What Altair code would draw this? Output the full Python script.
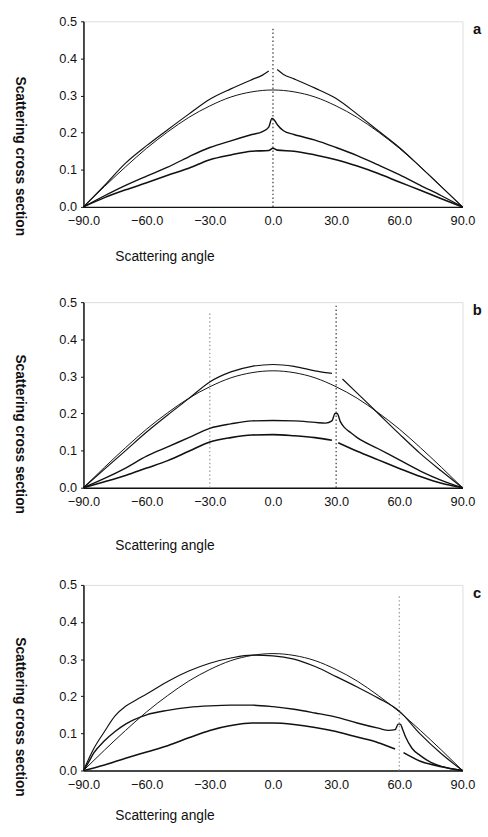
import altair as alt
import pandas as pd

FONT = "Liberation Sans"

# ---- smooth reference curve (same in every panel) ----
S_ang = [-90, -80, -70, -60, -50, -40, -30, -20, -10, 0, 10, 20, 30, 40, 50, 60, 70, 80, 90]
S_val = [0, 0.055, 0.108, 0.158, 0.202, 0.241, 0.272, 0.296, 0.31, 0.315, 0.31, 0.296, 0.272, 0.241, 0.202, 0.158, 0.108, 0.055, 0]

# ---- panel a ----
a_U_left_ang = [-90, -80, -70, -60, -50, -40, -30, -20, -10, -5, -2]
a_U_left_val = [0, 0.058, 0.118, 0.165, 0.208, 0.25, 0.29, 0.318, 0.343, 0.355, 0.366]
a_U_right_ang = [2, 5, 10, 20, 30, 40, 50, 60, 70, 80, 90]
a_U_right_val = [0.37, 0.357, 0.345, 0.32, 0.292, 0.25, 0.205, 0.16, 0.108, 0.054, 0]
a_M_ang = [-90, -80, -70, -60, -50, -40, -30, -20, -10, -5, -2, -0.5, 0.5, 2, 5, 10, 20, 30, 40, 50, 60, 70, 80, 90]
a_M_val = [0, 0.03, 0.058, 0.083, 0.107, 0.135, 0.16, 0.178, 0.195, 0.203, 0.215, 0.238, 0.235, 0.222, 0.205, 0.195, 0.18, 0.16, 0.138, 0.113, 0.087, 0.058, 0.03, 0]
a_L_ang = [-90, -80, -70, -60, -50, -40, -30, -20, -10, -2, 0, 2, 10, 20, 30, 40, 50, 60, 70, 80, 90]
a_L_val = [0, 0.025, 0.046, 0.065, 0.085, 0.104, 0.127, 0.14, 0.15, 0.152, 0.158, 0.153, 0.15, 0.14, 0.127, 0.11, 0.09, 0.067, 0.045, 0.022, 0]

# ---- panel b ----
b_U_left_ang = [-90, -80, -70, -60, -50, -40, -30, -20, -10, 0, 10, 20, 25, 28]
b_U_left_val = [0, 0.05, 0.1, 0.15, 0.196, 0.24, 0.285, 0.312, 0.327, 0.332, 0.327, 0.315, 0.31, 0.308]
b_U_right_ang = [33, 40, 50, 60, 70, 80, 90]
b_U_right_val = [0.293, 0.255, 0.2, 0.145, 0.092, 0.045, 0]
b_M_ang = [-90, -80, -70, -60, -50, -40, -30, -20, -10, 0, 10, 20, 25, 28, 29.5, 30.5, 32, 34, 37, 40, 50, 60, 70, 80, 90]
b_M_val = [0, 0.025, 0.053, 0.085, 0.11, 0.135, 0.16, 0.172, 0.18, 0.181, 0.18, 0.176, 0.174, 0.18, 0.2, 0.2, 0.178, 0.162, 0.148, 0.135, 0.105, 0.075, 0.045, 0.02, 0]
b_L_left_ang = [-90, -80, -70, -60, -50, -40, -30, -20, -10, 0, 10, 20, 28]
b_L_left_val = [0, 0.016, 0.033, 0.053, 0.073, 0.098, 0.123, 0.135, 0.142, 0.143, 0.14, 0.135, 0.128]
b_L_right_ang = [31, 40, 50, 60, 70, 80, 90]
b_L_right_val = [0.121, 0.098, 0.075, 0.052, 0.03, 0.012, 0]

# ---- panel c ----
c_U_ang = [-90, -85, -80, -75, -70, -65, -60, -50, -40, -30, -20, -10, 0, 10, 20, 30, 40, 50, 60, 70, 80, 90]
c_U_val = [0, 0.06, 0.105, 0.147, 0.173, 0.19, 0.206, 0.24, 0.268, 0.289, 0.303, 0.311, 0.309, 0.3, 0.28, 0.253, 0.225, 0.195, 0.16, 0.098, 0.045, 0]
c_M_ang = [-90, -88, -85, -80, -75, -70, -60, -50, -40, -30, -20, -10, 0, 10, 20, 30, 40, 50, 55, 58, 59.5, 60.5, 61.5, 63, 66, 70, 75, 80, 90]
c_M_val = [0, 0.018, 0.048, 0.08, 0.105, 0.125, 0.15, 0.162, 0.17, 0.174, 0.176, 0.176, 0.172, 0.165, 0.155, 0.144, 0.128, 0.114, 0.108, 0.11, 0.125, 0.125, 0.112, 0.09, 0.06, 0.04, 0.022, 0.011, 0]
c_L_left_ang = [-90, -80, -70, -60, -50, -40, -30, -20, -10, 0, 10, 20, 30, 40, 50, 58]
c_L_left_val = [0, 0.015, 0.033, 0.05, 0.067, 0.088, 0.108, 0.121, 0.128, 0.128, 0.124, 0.116, 0.105, 0.09, 0.075, 0.058]
c_L_right_ang = [62, 70, 80, 90]
c_L_right_val = [0.048, 0.025, 0.01, 0]

# ---- dotted vertical markers ----
rule_panel = ["a", "b", "b", "c"]
rule_x = [0, -30, 30, 60]
rule_top = [0.48, 0.47, 0.49, 0.47]
rule_shade = ["dark", "light", "dark", "light"]

panel_names = ["a", "b", "c"]

# ---- build table ----
rows = []
def add(panel, series, seg, angs, vals):
    for a, v in zip(angs, vals):
        rows.append(dict(panel=panel, series=series, key=series + seg, angle=a, value=v))

for p in panel_names:
    add(p, "S", "0", S_ang, S_val)
add("a", "U", "L", a_U_left_ang, a_U_left_val)
add("a", "U", "R", a_U_right_ang, a_U_right_val)
add("a", "M", "0", a_M_ang, a_M_val)
add("a", "L", "0", a_L_ang, a_L_val)
add("b", "U", "L", b_U_left_ang, b_U_left_val)
add("b", "U", "R", b_U_right_ang, b_U_right_val)
add("b", "M", "0", b_M_ang, b_M_val)
add("b", "L", "L", b_L_left_ang, b_L_left_val)
add("b", "L", "R", b_L_right_ang, b_L_right_val)
add("c", "U", "0", c_U_ang, c_U_val)
add("c", "M", "0", c_M_ang, c_M_val)
add("c", "L", "L", c_L_left_ang, c_L_left_val)
add("c", "L", "R", c_L_right_ang, c_L_right_val)
df = pd.DataFrame(rows)

rules = pd.DataFrame(dict(panel=rule_panel, x=rule_x, y0=[0] * 4, y1=rule_top, shade=rule_shade))
labels = pd.DataFrame(dict(panel=panel_names, x=[97] * 3, y=[0.478] * 3, text=panel_names))

title_y = {"a": 55, "b": 63, "c": 50}
ytitle_y = {"a": 137, "b": 134, "c": 134}


def panel(p):
    xscale = alt.Scale(domain=[-90, 90], nice=False, zero=False)
    yscale = alt.Scale(domain=[0, 0.5], nice=False)
    xaxis = alt.Axis(values=[-90, -60, -30, 0, 30, 60, 90], format=".1f", title="Scattering angle",
                     titleX=32, titleY=title_y[p], titleAlign="left", titleBaseline="alphabetic",
                     titleFontWeight="normal", titleFontSize=14, labelFontSize=13, labelPadding=8,
                     labelFlush=False, labelOverlap=False,
                     grid=False, ticks=False, domainColor="#111", domainWidth=1.5, labelColor="#111",
                     titleColor="#111", labelFont=FONT, titleFont=FONT)
    yaxis = alt.Axis(values=[0, 0.1, 0.2, 0.3, 0.4, 0.5], format=".1f", title="Scattering cross section",
                     titleAngle=90, titleX=-65, titleY=ytitle_y[p], titleAlign="center",
                     titleBaseline="middle", titleFontWeight="bold", titleFontSize=14,
                     labelFontSize=13, labelPadding=4, labelFlush=False, labelOverlap=False,
                     grid=False, tickSize=3, tickColor="#111",
                     domainColor="#111", domainWidth=1.5, labelColor="#111", titleColor="#111",
                     labelFont=FONT, titleFont=FONT)
    X = lambda f: alt.X(f, scale=xscale, axis=xaxis)
    Y = lambda f: alt.Y(f, scale=yscale, axis=yaxis)
    lines = alt.Chart(df[df.panel == p]).mark_line(color="#111", clip=False, interpolate="monotone").encode(
        x=X("angle:Q"),
        y=Y("value:Q"),
        detail="key:N",
        strokeWidth=alt.StrokeWidth("series:N", scale=alt.Scale(domain=["S", "U", "M", "L"], range=[1.0, 1.6, 3.2, 1.8]), legend=None),
    )
    rl = alt.Chart(rules[rules.panel == p]).mark_rule(strokeDash=[1.5, 2.5], strokeWidth=1.2).encode(
        x=X("x:Q"),
        y=Y("y0:Q"),
        y2="y1:Q",
        color=alt.Color("shade:N", scale=alt.Scale(domain=["dark", "light"], range=["#333", "#999"]), legend=None),
    )
    lb = alt.Chart(labels[labels.panel == p]).mark_text(font=FONT, fontSize=15, fontWeight="bold", color="#111", align="center", baseline="middle").encode(
        x=X("x:Q"),
        y=Y("y:Q"),
        text="text:N",
    )
    return alt.layer(rl, lines, lb).properties(width=386, height=189)


top = alt.vconcat(panel("a"), panel("b"), spacing=31)
chart = alt.vconcat(top, panel("c"), spacing=25).properties(
    padding={"left": 12, "top": 7, "right": 5, "bottom": 5}
).configure_view(stroke=None).configure(font=FONT)

chart.save("out.html", embed_options={"renderer": "svg", "actions": False})
